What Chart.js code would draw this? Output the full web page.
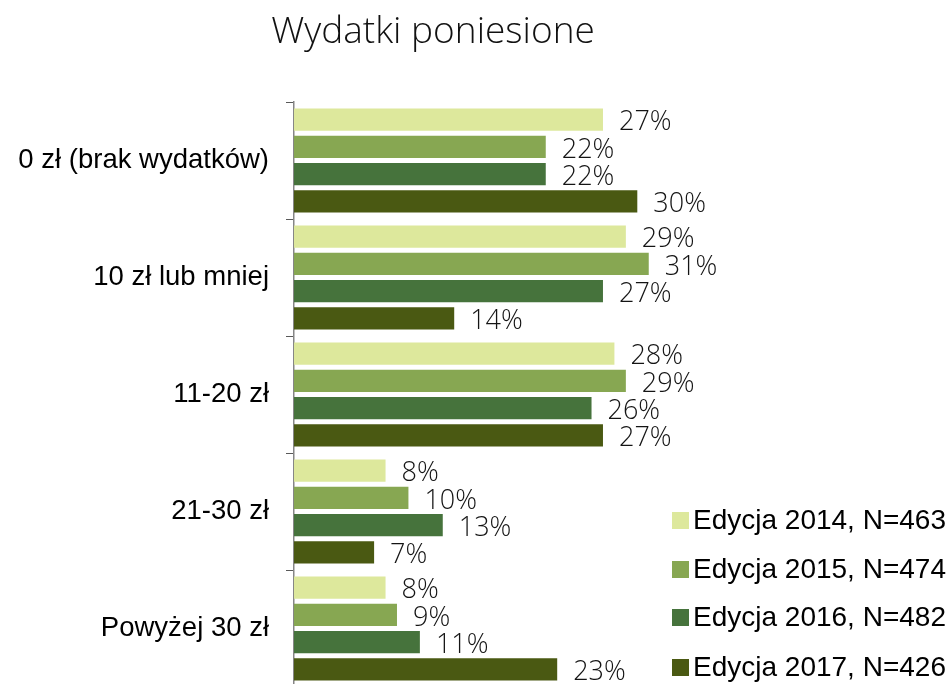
<!DOCTYPE html>
<html>
<head>
<meta charset="utf-8">
<script src="https://cdn.jsdelivr.net/npm/chart.js@4"></script>
<style>
  html, body { margin: 0; padding: 0; background: #fff; }
  #wrap { width: 952px; height: 684px; overflow: hidden; position: relative; }
</style>
</head>
<body>
<div id="wrap">
  <canvas id="graph1" width="952" height="690"></canvas>
</div>
<script>
  // spending brackets, one group of bars per bracket
  const categories = ['0 zł (brak wydatków)', '10 zł lub mniej', '11-20 zł', '21-30 zł', 'Powyżej 30 zł']
  const seriesNames = ['Edycja 2014, N=463', 'Edycja 2015, N=474', 'Edycja 2016, N=482', 'Edycja 2017, N=426']
  const ed2014 = [27, 29, 28, 8, 8]
  const ed2015 = [22, 31, 29, 10, 9]
  const ed2016 = [22, 27, 26, 13, 11]
  const ed2017 = [30, 14, 27, 7, 23]
  const colors = ['#dde89c', '#87a752', '#46733c', '#4a5912']

  const chartTitle = 'Wydatki poniesione'

  // title is centred over the left part, not the whole canvas
  const titlePlugin = {
    id: 'titleText',
    afterDraw(chart) {
      const c = chart.ctx
      c.save()
      c.font = '300 37px "Open Sans"'
      c.fillStyle = '#111'
      c.textAlign = 'center'
      c.textBaseline = 'alphabetic'
      c.fillText(chartTitle, 433, 43)
      c.restore()
    }
  }

  // percentage next to the end of every bar
  const valueLabels = {
    id: 'valueLabels',
    afterDatasetsDraw(chart) {
      const c = chart.ctx
      c.save()
      c.font = '300 27px "Open Sans"'
      c.fillStyle = '#141414'
      c.textAlign = 'left'
      c.textBaseline = 'middle'
      chart.data.datasets.forEach((ds, i) => {
        const meta = chart.getDatasetMeta(i)
        meta.data.forEach((bar, j) => {
          c.fillText(ds.data[j] + '%', bar.x + 16, bar.y + 3)
        })
      })
      c.restore()
    }
  }

  // legend stacked in the bottom right corner
  const sideLegend = {
    id: 'sideLegend',
    afterDraw(chart) {
      const c = chart.ctx
      const rows = [520, 569, 617, 667]
      c.save()
      c.font = '28px "Liberation Sans", Arial, sans-serif'
      c.textBaseline = 'middle'
      c.textAlign = 'left'
      chart.data.datasets.forEach((ds, i) => {
        c.fillStyle = ds.backgroundColor
        c.fillRect(672, rows[i] - 8, 17, 17)
        c.fillStyle = '#000'
        c.fillText(ds.label, 693, rows[i] + 1)
      })
      c.restore()
    }
  }

  const ctx = document.getElementById('graph1')
  const series = [ed2014, ed2015, ed2016, ed2017]

  new Chart(ctx, {
    type: 'bar',
    data: {
      labels: categories,
      datasets: series.map((vals, i) => ({
        label: seriesNames[i],
        data: vals,
        backgroundColor: colors[i],
        categoryPercentage: 0.93,
        barPercentage: 0.815
      }))
    },
    options: {
      indexAxis: 'y',
      responsive: false,
      animation: false,
      layout: { padding: { top: 102, bottom: 3, left: 0, right: 0 } },
      plugins: {
        legend: { display: false },
        title: { display: false },
        tooltip: { enabled: false }
      },
      scales: {
        x: {
          display: false,
          min: 0,
          max: 57.5
        },
        y: {
          afterFit(scale) {
            scale.width = 294
            scale.paddingTop = 0
            scale.paddingBottom = 0
          },
          grid: {
            offset: true,
            drawOnChartArea: false,
            drawTicks: true,
            tickLength: 8,
            color: '#595959'
          },
          border: { color: '#868686', width: 1.5 },
          ticks: {
            padding: 17,
            color: '#000',
            font: { family: '"Liberation Sans", Arial, sans-serif', size: 27.5 }
          }
        }
      }
    },
    plugins: [titlePlugin, valueLabels, sideLegend]
  })
</script>
</body>
</html>
